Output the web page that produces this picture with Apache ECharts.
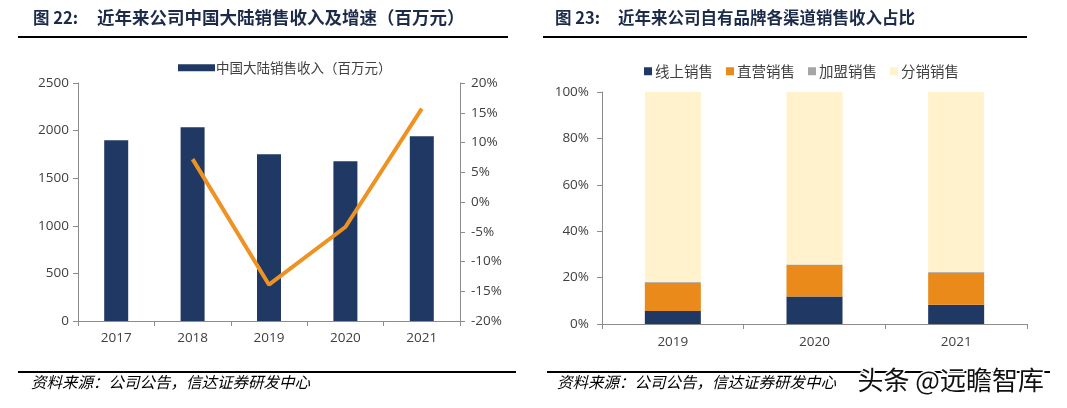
<!DOCTYPE html>
<html>
<head>
<meta charset="utf-8">
<script src="https://cdn.jsdelivr.net/npm/echarts@6/dist/echarts.min.js"></script>
<style>
html,body{margin:0;padding:0;background:#fff;}
#c{width:1067px;height:408px;}
</style>
</head>
<body>
<div id="c"></div>
<script>
// Left chart data
var yearsA = ['2017', '2018', '2019', '2020', '2021'];
var revenue = [1898, 2035, 1751, 1677, 1940];
var growth = [null, 7.2, -13.9, -4.2, 15.7];
var revTicks = [0, 500, 1000, 1500, 2000, 2500];
var growthTicks = [-20, -15, -10, -5, 0, 5, 10, 15, 20];

// Right chart data
var yearsB = ['2019', '2020', '2021'];
var online = [5.6, 11.8, 8.3];
var direct = [12.2, 13.6, 13.8];
var franchise = [0.3, 0.3, 0.3];
var distribution = [81.9, 74.3, 77.6];
var pctTicks = [0, 20, 40, 60, 80, 100];

var NAVY = '#203864', ORANGE = '#EA8A1B', GRAY = '#A6A6A6', CREAM = '#FFF2CC', LINE = '#EE9322';
var AX = '#8c8c8c', LBL = '#404040';
var FONT = '"Open Sans","Noto Sans CJK SC",sans-serif';
var TFONT = '"Noto Sans CJK SC",sans-serif';

var chart = echarts.init(document.getElementById('c'));

var axisCommon = {
  axisLine: {show: true, lineStyle: {color: AX, width: 1}},
  axisTick: {show: true, length: 5, lineStyle: {color: AX}},
  splitLine: {show: false},
  axisLabel: {color: LBL, fontSize: 13.5, fontFamily: FONT}
};

function merge(a, b) { var o = {}; for (var k in a) o[k] = a[k]; for (var k2 in b) o[k2] = b[k2]; return o; }

var option = {
  animation: false,
  textStyle: {fontFamily: FONT},
  grid: [
    {left: 78, right: 607, top: 83, bottom: 87},
    {left: 602, right: 40, top: 92, bottom: 84}
  ],
  legend: [
    {
      data: ['中国大陆销售收入（百万元）'],
      left: 173, top: 56, icon: 'rect',
      itemWidth: 37, itemHeight: 7, itemGap: 10,
      textStyle: {color: LBL, fontSize: 13.5, fontFamily: TFONT, padding: [0, 0, 0, -4]}
    },
    {
      data: ['线上销售', '直营销售', '加盟销售', '分销销售'],
      left: 639, top: 59,
      itemWidth: 8, itemHeight: 8, itemGap: 13,
      icon: 'rect',
      textStyle: {color: LBL, fontSize: 14.5, fontFamily: TFONT, padding: [0, 0, 0, -2]}
    }
  ],
  xAxis: [
    merge(axisCommon, {
      type: 'category', gridIndex: 0, data: yearsA,
      axisTick: {show: true, length: 5, alignWithLabel: false, lineStyle: {color: AX}},
      axisLabel: {color: LBL, fontSize: 13.5, fontFamily: FONT, margin: 10}
    }),
    merge(axisCommon, {
      type: 'category', gridIndex: 1, data: yearsB,
      axisTick: {show: true, length: 5, alignWithLabel: false, lineStyle: {color: AX}},
      axisLabel: {color: LBL, fontSize: 13.5, fontFamily: FONT, margin: 11}
    })
  ],
  yAxis: [
    merge(axisCommon, {
      type: 'value', gridIndex: 0, min: revTicks[0], max: revTicks[revTicks.length - 1], interval: 500,
      axisLabel: {color: LBL, fontSize: 13.5, fontFamily: FONT, margin: 9, formatter: function (v) { return String(v); }}
    }),
    merge(axisCommon, {
      type: 'value', gridIndex: 0, position: 'right', min: growthTicks[0], max: growthTicks[growthTicks.length - 1], interval: 5,
      axisLabel: {color: LBL, fontSize: 13.5, fontFamily: FONT, margin: 11, formatter: '{value}%'}
    }),
    merge(axisCommon, {
      type: 'value', gridIndex: 1, min: pctTicks[0], max: pctTicks[pctTicks.length - 1], interval: 20,
      axisLabel: {color: LBL, fontSize: 13.5, fontFamily: FONT, margin: 13, formatter: '{value}%'}
    })
  ],
  series: [
    {
      name: '中国大陆销售收入（百万元）', type: 'bar', xAxisIndex: 0, yAxisIndex: 0,
      data: revenue, barWidth: 24, itemStyle: {color: NAVY}
    },
    {
      name: '增速', type: 'line', xAxisIndex: 0, yAxisIndex: 1,
      data: growth, showSymbol: false, symbol: 'none',
      lineStyle: {color: LINE, width: 4}, itemStyle: {color: LINE}
    },
    {name: '线上销售', type: 'bar', stack: 's', xAxisIndex: 1, yAxisIndex: 2, data: online, barWidth: 56, itemStyle: {color: NAVY}},
    {name: '直营销售', type: 'bar', stack: 's', xAxisIndex: 1, yAxisIndex: 2, data: direct, barWidth: 56, itemStyle: {color: ORANGE}},
    {name: '加盟销售', type: 'bar', stack: 's', xAxisIndex: 1, yAxisIndex: 2, data: franchise, barWidth: 56, itemStyle: {color: GRAY}},
    {name: '分销销售', type: 'bar', stack: 's', xAxisIndex: 1, yAxisIndex: 2, data: distribution, barWidth: 56, itemStyle: {color: CREAM}}
  ],
  graphic: [
    {type: 'text', left: 33, top: 9, style: {text: '图 22:', fontSize: 16.5, fontWeight: 'bold', fill: '#1c2b4a', fontFamily: TFONT}},
    {type: 'text', left: 97, top: 9, style: {text: '近年来公司中国大陆销售收入及增速（百万元）', fontSize: 17.5, fontWeight: 'bold', fill: '#1c2b4a', fontFamily: TFONT}},
    {type: 'text', left: 555, top: 9, style: {text: '图 23:', fontSize: 16.5, fontWeight: 'bold', fill: '#1c2b4a', fontFamily: TFONT}},
    {type: 'text', left: 618, top: 9, style: {text: '近年来公司自有品牌各渠道销售收入占比', fontSize: 16.5, fontWeight: 'bold', fill: '#1c2b4a', fontFamily: TFONT}},
    {type: 'line', shape: {x1: 18, y1: 37, x2: 508, y2: 37}, style: {stroke: '#000', lineWidth: 2}},
    {type: 'line', shape: {x1: 543, y1: 37, x2: 1027, y2: 37}, style: {stroke: '#000', lineWidth: 2}},
    {type: 'line', shape: {x1: 18, y1: 372, x2: 516, y2: 372}, style: {stroke: '#000', lineWidth: 2}},
    {type: 'line', shape: {x1: 547, y1: 372, x2: 1050, y2: 372}, style: {stroke: '#000', lineWidth: 2}},
    {type: 'text', left: 31, top: 374, style: {text: '资料来源：公司公告，信达证券研发中心', fontSize: 15.5, fontStyle: 'italic', fill: '#000', fontFamily: TFONT}},
    {type: 'text', left: 557, top: 374, style: {text: '资料来源：公司公告，信达证券研发中心', fontSize: 15.5, fontStyle: 'italic', fill: '#000', fontFamily: TFONT}},
    {type: 'text', left: 856, top: 366, z: 100, style: {text: '头条 @远瞻智库', fontSize: 26, fill: '#111', stroke: '#fff', lineWidth: 3, fontFamily: TFONT}}
  ]
};
chart.setOption(option);
</script>
</body>
</html>
